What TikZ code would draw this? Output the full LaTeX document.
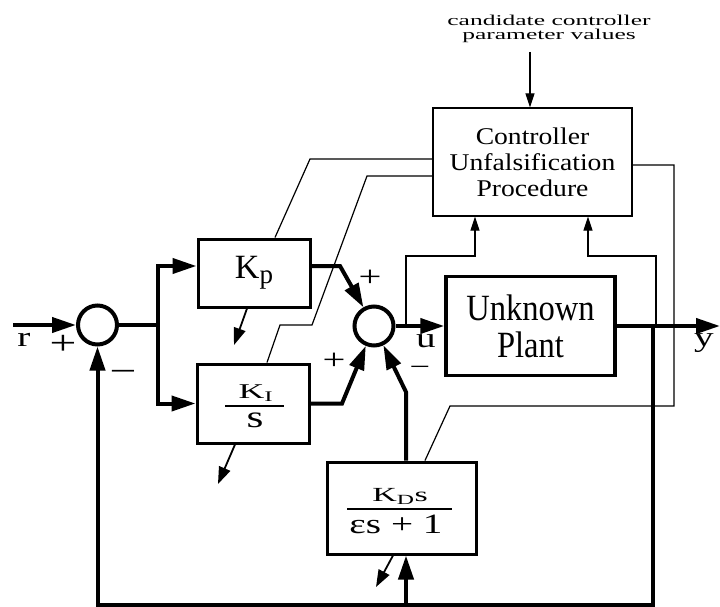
\documentclass[tikz,border=0pt]{standalone}
\usepackage{fontspec}
\setmainfont{Liberation Serif}
\newfontfamily\fA[FakeStretch=1.7]{Liberation Serif}
\newfontfamily\fB[FakeStretch=1.15]{Liberation Serif}
\newfontfamily\fC[FakeStretch=0.88]{Liberation Serif}
\newfontfamily\fD[FakeStretch=1.7]{Liberation Serif}
\newfontfamily\fE[FakeStretch=1.4]{Liberation Serif}
\usetikzlibrary{arrows.meta}
\tikzset{
  thickline/.style={line width=4pt},
  bigarrow/.style={line width=4pt,-{Triangle[length=24pt,width=15pt]}},
  thinline/.style={line width=1.2pt},
  thinarrow/.style={line width=1.2pt,-{Triangle[length=14pt,width=9pt]}},
  tunearrow/.style={line width=1.8pt,-{Triangle[length=17pt,width=12pt]}},
  sumc/.style={circle,draw,line width=4pt,minimum size=39pt,inner sep=0pt},
  blk/.style={rectangle,draw,line width=3pt,inner sep=0pt},
  cbox/.style={rectangle,draw,line width=1.2pt,inner sep=0pt,align=center,
    font=\fB\fontsize{24}{26}\selectfont},
  sign/.style={inner sep=0pt,font=\fE\fontsize{34}{34}\selectfont},
  lbl/.style={inner sep=0pt,font=\fE\fontsize{28}{28}\selectfont},
}
\begin{document}
\begin{tikzpicture}[x=1pt,y=-1pt]
\useasboundingbox (0,0) rectangle (720,607);

% blocks
\node[sumc] (s1) at (97.5,325) {};
\node[sumc] (s2) at (374,326) {};
\node[blk,minimum width=112pt,minimum height=68pt] (Kp) at (254,273)
  {\fontsize{34}{34}\selectfont K\raisebox{-5pt}{\fontsize{27}{27}\selectfont p}};
\node[blk,minimum width=112pt,minimum height=79pt] (KI) at (253,403.5) {};
\node[blk,minimum width=149pt,minimum height=92pt] (KD) at (401.5,508) {};
\node[blk,line width=3.5pt,minimum width=169pt,minimum height=99pt,align=center,
  font=\fC\fontsize{37}{37}\selectfont] (P) at (530.5,326) {Unknown\\Plant};
\node[cbox,minimum width=199pt,minimum height=108pt] (C) at (532.5,162)
  {Controller\\Unfalsification\\Procedure};
\node[inner sep=0pt,align=center,font=\fA\fontsize{15}{14}\selectfont] (cand) at (549,29)
  {candidate controller\\parameter values};

% fractions
\node[anchor=base,inner sep=0pt,font=\fD\fontsize{21}{21}\selectfont] (kin) at (256,398) {K\textsubscript{I}};
\draw[line width=1.5pt] (225,406) -- (284,406);
\node[anchor=base,inner sep=0pt,font=\fE\fontsize{31}{31}\selectfont] (kid) at (255,427) {s};
\node[anchor=base,inner sep=0pt,font=\fD\fontsize{20}{20}\selectfont] (kdn) at (400,501) {K\textsubscript{D}s};
\draw[line width=1.5pt] (347,509) -- (452,509);
\node[anchor=base,inner sep=0pt,font=\fE\fontsize{28}{28}\selectfont] (kdd) at (396,533) {εs + 1};

% main loop
\coordinate (rin) at (13,325);
\coordinate (b1) at (158,325);
\coordinate (kpin) at (158,266);
\coordinate (kiin) at (158,403.5);
\coordinate (kpo) at (340,266);
\coordinate (kio) at (342,403.5);
\coordinate (kdo) at (406,392);
\coordinate (yend) at (720,326);
\coordinate (ytap) at (653,326);
\coordinate (fbr) at (653,605);
\coordinate (fbl) at (97.5,605);
\coordinate (kdb) at (406,605);

\draw[bigarrow] (rin) -- (s1);
\draw[thickline] (s1) -- (b1);
\draw[bigarrow] (b1) -- (kpin) -- (kpin -| Kp.west);
\draw[bigarrow] (b1) -- (kiin) -- (KI.west);
\draw[bigarrow] (kpo -| Kp.east) -- (kpo) -- (s2);
\draw[bigarrow] (KI.east) -- (kio) -- (s2);
\draw[bigarrow] (kdo |- KD.north) -- (kdo) -- (s2);
\draw[bigarrow] (s2) -- (s2 -| P.west);
\draw[bigarrow] (yend -| P.east) -- (yend);
\draw[bigarrow,line join=miter] (ytap) -- (fbr) -- (fbl) -- (s1);
\draw[bigarrow] (kdb) -- (kdb |- KD.south);

% signals to controller
\coordinate (ut) at (406,326);
\coordinate (u1) at (406,256);
\coordinate (u2) at (475,256);
\coordinate (yt) at (656,326);
\coordinate (y1) at (656,256);
\coordinate (y2) at (588,256);
\coordinate (ca) at (530,52);
\draw[thinarrow] (ut) -- (u1) -- (u2) -- (u2 |- C.south);
\draw[thinarrow] (yt) -- (y1) -- (y2) -- (y2 |- C.south);
\draw[thinarrow] (ca) -- (ca |- C.north);

% tuning lines
\coordinate (p1) at (310,159);
\coordinate (p2) at (275,239);
\coordinate (q1) at (367,176);
\coordinate (q2) at (312,325);
\coordinate (q3) at (280,325);
\coordinate (q4) at (267,364);
\coordinate (d1) at (674,165);
\coordinate (d2) at (674,406);
\coordinate (d3) at (450,406);
\coordinate (d4) at (425,462);
\draw[thinline] (p1 -| C.west) -- (p1) -- (p2 |- Kp.north);
\draw[thinline] (q1 -| C.west) -- (q1) -- (q2) -- (q3) -- (q4 |- KI.north);
\draw[thinline] (d1 -| C.east) -- (d1) -- (d2) -- (d3) -- (d4 |- KD.north);
\coordinate (pa) at (247,307);
\coordinate (ia) at (235,443);
\coordinate (da) at (393,554);
\draw[tunearrow] (pa |- Kp.south) -- (234,345);
\draw[tunearrow] (ia |- KI.south) -- (218,484);
\draw[tunearrow] (da |- KD.south) -- (376,587);

% labels
\node[lbl] (lr) at (24,340) {r};
\node[sign] (lp1) at (63,345) {+};
\node[sign] (lm1) at (123,376) {−};
\node[sign,font=\fE\fontsize{29}{29}\selectfont] (lp2) at (370,278) {+};
\node[sign,font=\fE\fontsize{29}{29}\selectfont] (lp3) at (334,361) {+};
\node[sign,font=\fE\fontsize{26}{26}\selectfont] (lm2) at (420,371) {−};
\node[lbl] (lu) at (426,341) {u};
\node[lbl] (ly) at (704,343) {y};
\end{tikzpicture}
\end{document}
